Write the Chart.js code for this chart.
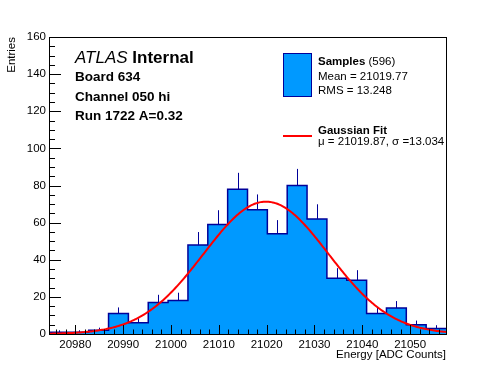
<!DOCTYPE html>
<html>
<head>
<meta charset="utf-8">
<script src="https://cdn.jsdelivr.net/npm/chart.js@4.4.1/dist/chart.umd.min.js"></script>
<style>
  html, body { margin: 0; padding: 0; background: #fff; }
  #wrap { width: 496px; height: 372px; position: relative; }
</style>
</head>
<body>
<div id="wrap"><canvas id="chart"></canvas></div>
<script>
// histogram: 20 bins starting at binLow
const binLow = 20974.5;
const binWidth = 4.15;
const counts = [1, 1, 2, 11, 6, 17, 18, 48, 59, 78, 67, 54, 80, 62, 30, 29, 11, 14, 5, 3];

const fitAmp = 71.3;
const fitMu = 21019.87;
const fitSigma = 13.034;

const xMin = 20974.5;
const xMax = 21057.5;
const yMin = 0;
const yMax = 160;
const xTickStep = 10;
const yTickStep = 20;

const infoLines = ["Board 634", "Channel 050 hi", "Run 1722 A=0.32"];
const sampleLines = ["Mean = 21019.77", "RMS = 13.248"];
const fitLine = "\u03bc = 21019.87, \u03c3 =13.034";

const FONT = "'Liberation Sans', Arial, Helvetica, sans-serif";
const FILL = "#0099ff";
const EDGE = "#000099";

const edges = counts.map((_, i) => binLow + i * binWidth).concat(binLow + counts.length * binWidth);
const histPoints = edges.map((x, i) => ({ x, y: counts[Math.min(i, counts.length - 1)] }));

const fitPoints = [];
for (let i = 0; i <= 300; i++) {
  const x = xMin + (xMax - xMin) * i / 300;
  fitPoints.push({ x, y: fitAmp * Math.exp(-0.5 * ((x - fitMu) / fitSigma) ** 2) });
}

const rootStyle = {
  id: "rootStyle",
  afterDatasetDraw(chart, args) {
    if (args.index !== 0) return;
    const { ctx, scales: { x, y } } = chart;
    ctx.save();
    ctx.strokeStyle = EDGE;
    ctx.lineWidth = 1;
    counts.forEach((c, i) => {
      if (!c) return;
      const px = Math.round(x.getPixelForValue(binLow + (i + 0.5) * binWidth)) + 0.5;
      ctx.beginPath();
      ctx.moveTo(px, y.getPixelForValue(c));
      ctx.lineTo(px, y.getPixelForValue(c + Math.sqrt(c)));
      ctx.stroke();
    });
    ctx.restore();
  },
  afterDraw(chart) {
    const { ctx, chartArea: a, scales: { x, y } } = chart;
    ctx.save();
    ctx.strokeStyle = "#000";
    ctx.lineWidth = 1;
    ctx.strokeRect(Math.round(a.left) + 0.5, Math.round(a.top) + 0.5,
      Math.round(a.right - a.left), Math.round(a.bottom - a.top));

    // inward ticks
    ctx.beginPath();
    for (let v = Math.ceil(xMin / 2) * 2; v <= xMax; v += 2) {
      const px = Math.round(x.getPixelForValue(v)) + 0.5;
      const len = v % xTickStep === 0 ? 9 : 4.5;
      ctx.moveTo(px, a.bottom);
      ctx.lineTo(px, a.bottom - len);
    }
    for (let v = yMin; v <= yMax; v += 5) {
      const py = Math.round(y.getPixelForValue(v)) + 0.5;
      const len = v % yTickStep === 0 ? 12 : 6;
      ctx.moveTo(a.left, py);
      ctx.lineTo(a.left + len, py);
    }
    ctx.stroke();

    // ATLAS label block
    ctx.fillStyle = "#000";
    ctx.textBaseline = "alphabetic";
    ctx.font = "italic 17px " + FONT;
    ctx.fillText("ATLAS", 75, 63);
    const w = ctx.measureText("ATLAS ").width;
    ctx.font = "bold 17px " + FONT;
    ctx.fillText("Internal", 75 + w, 63);
    ctx.font = "bold 13.5px " + FONT;
    infoLines.forEach((t, i) => ctx.fillText(t, 75, 81 + i * 19.5));

    // legend
    ctx.fillStyle = FILL;
    ctx.fillRect(283.5, 53.5, 28, 43);
    ctx.strokeStyle = EDGE;
    ctx.strokeRect(283.5, 53.5, 28, 43);
    ctx.fillStyle = "#000";
    ctx.font = "bold 11.5px " + FONT;
    ctx.fillText("Samples", 318, 65);
    const sw = ctx.measureText("Samples").width;
    ctx.font = "11.5px " + FONT;
    ctx.fillText(" (596)", 318 + sw, 65);
    sampleLines.forEach((t, i) => ctx.fillText(t, 318, 79.5 + i * 14.5));

    ctx.strokeStyle = "#ff0000";
    ctx.lineWidth = 2;
    ctx.beginPath();
    ctx.moveTo(283, 136);
    ctx.lineTo(312, 136);
    ctx.stroke();
    ctx.font = "bold 11.5px " + FONT;
    ctx.fillText("Gaussian Fit", 318, 134);
    ctx.font = "11.5px " + FONT;
    ctx.fillText(fitLine, 318, 145);
    ctx.restore();
  }
};

new Chart(document.getElementById("chart"), {
  type: "line",
  data: {
    datasets: [
      {
        data: histPoints,
        stepped: "before",
        fill: "origin",
        backgroundColor: FILL,
        borderColor: EDGE,
        borderWidth: 1.5,
        pointRadius: 0,
        order: 2,
      },
      {
        data: fitPoints,
        borderColor: "#ff0000",
        borderWidth: 2,
        pointRadius: 0,
        tension: 0,
        fill: false,
        order: 1,
      },
    ],
  },
  options: {
    responsive: true,
    maintainAspectRatio: false,
    animation: false,
    layout: { padding: { left: 0, top: 37, right: 50, bottom: 0 } },
    plugins: {
      legend: { display: false },
      tooltip: { enabled: false },
    },
    scales: {
      x: {
        type: "linear",
        min: xMin,
        max: xMax,
        afterFit: (s) => { s.height = 38; },
        grid: { display: false, drawTicks: false },
        border: { display: false },
        ticks: {
          stepSize: xTickStep,
          includeBounds: false,
          autoSkip: false,
          maxRotation: 0,
          padding: 4,
          color: "#000",
          font: { family: FONT, size: 11.5 },
          callback: (v) => String(v),
        },
        title: {
          display: true,
          text: "Energy [ADC Counts]",
          align: "end",
          color: "#000",
          font: { family: FONT, size: 11.5 },
          padding: { top: 0, bottom: 10 },
        },
      },
      y: {
        min: yMin,
        max: yMax,
        afterFit: (s) => { s.width = 49; },
        grid: { display: false, drawTicks: false },
        border: { display: false },
        ticks: {
          stepSize: yTickStep,
          padding: 3,
          color: "#000",
          font: { family: FONT, size: 11.5 },
        },
        title: {
          display: true,
          text: "Entries",
          align: "end",
          color: "#000",
          font: { family: FONT, size: 11.5 },
          padding: { top: 5, bottom: 0 },
        },
      },
    },
  },
  plugins: [rootStyle],
});
</script>
</body>
</html>
